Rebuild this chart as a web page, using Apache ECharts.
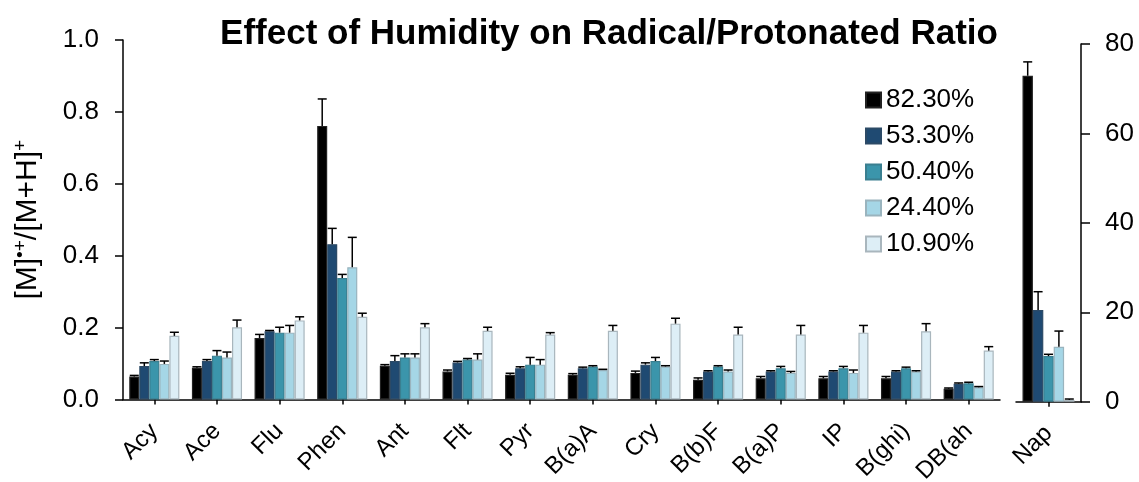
<!DOCTYPE html>
<html>
<head>
<meta charset="utf-8">
<script src="https://cdn.jsdelivr.net/npm/echarts@6/dist/echarts.min.js"></script>
<style>
html,body{margin:0;padding:0;background:#fff;}
#chart{width:1139px;height:482px;}
</style>
</head>
<body>
<div id="chart"></div>
<script>
// ---- data ----
const categories = ['Acy','Ace','Flu','Phen','Ant','Flt','Pyr','B(a)A','Cry','B(b)F','B(a)P','IP','B(ghi)','DB(ah'];
const napCategory = ['Nap'];
const seriesNames = ['82.30%','53.30%','50.40%','24.40%','10.90%'];

const rh823 = [0.064,0.088,0.171,0.761,0.094,0.078,0.069,0.069,0.074,0.055,0.059,0.059,0.059,0.030];
const rh533 = [0.093,0.107,0.190,0.432,0.107,0.103,0.087,0.087,0.097,0.078,0.078,0.078,0.078,0.044];
const rh504 = [0.107,0.122,0.186,0.338,0.117,0.111,0.097,0.092,0.107,0.092,0.087,0.087,0.087,0.045];
const rh244 = [0.099,0.117,0.186,0.368,0.117,0.111,0.097,0.082,0.092,0.078,0.074,0.074,0.078,0.034];
const rh109 = [0.177,0.201,0.220,0.230,0.201,0.191,0.181,0.191,0.211,0.181,0.181,0.186,0.190,0.136];

const err823 = [0.003,0.003,0.010,0.075,0.003,0.004,0.004,0.003,0.005,0.005,0.005,0.005,0.005,0.002];
const err533 = [0.009,0.004,0.002,0.044,0.015,0.003,0.004,0.003,0.005,0.002,0.002,0.002,0.002,0.002];
const err504 = [0.004,0.014,0.015,0.010,0.010,0.003,0.020,0.002,0.010,0.002,0.005,0.005,0.003,0.003];
const err244 = [0.008,0.015,0.020,0.083,0.010,0.016,0.014,0.002,0.002,0.004,0.004,0.008,0.002,0.002];
const err109 = [0.010,0.020,0.010,0.010,0.010,0.010,0.005,0.015,0.015,0.020,0.025,0.020,0.021,0.011];

const napValues = [72.9, 20.5, 10.2, 12.3, 0.4];
const napErrors = [3.1, 4.1, 0.4, 3.5, 0.2];

const leftTicks = [0, 0.2, 0.4, 0.6, 0.8, 1.0];
const rightTicks = [0, 20, 40, 60, 80];

// ---- styles ----
const colors = ['#000000','#1f4a72','#3b95ab','#a5d6e6','#ddeef6'];
const borders = ['#222222','#2c4a66','#3a7f90','#9ab4be','#a9b6bd'];
const leftValues = [rh823, rh533, rh504, rh244, rh109];
const leftErrors = [err823, err533, err504, err244, err109];
const CAT_GAP = 0.2;
const FONT = 'Liberation Sans, Arial, sans-serif';

function errRender(idx){
  return function(params, api){
    const c = api.value(0), v = api.value(1), e = api.value(2);
    const base = api.coord([c, v]);
    const top = api.coord([c, v + e]);
    const band = api.size([1, 0])[0];
    const bw = band * (1 - CAT_GAP) / 5;
    const cx = base[0] + (idx - 2) * bw;
    const cap = 4.5;
    return {
      type: 'group',
      children: [
        {type:'line', shape:{x1:cx, y1:base[1], x2:cx, y2:top[1]}, style:{stroke:'#000', lineWidth:1.5}},
        {type:'line', shape:{x1:cx-cap, y1:top[1], x2:cx+cap, y2:top[1]}, style:{stroke:'#000', lineWidth:1.5}}
      ]
    };
  };
}

const series = [];
seriesNames.forEach((name, i) => {
  series.push({
    name: name, type: 'bar', xAxisIndex: 0, yAxisIndex: 0,
    data: leftValues[i], barGap: '0%', barCategoryGap: (CAT_GAP*100)+'%',
    itemStyle: {color: colors[i], borderColor: borders[i], borderWidth: 1.2},
    animation: false
  });
});
seriesNames.forEach((name, i) => {
  series.push({
    name: name, type: 'bar', xAxisIndex: 1, yAxisIndex: 1,
    data: [napValues[i]], barGap: '0%', barCategoryGap: (CAT_GAP*100)+'%',
    itemStyle: {color: colors[i], borderColor: borders[i], borderWidth: 1.2},
    animation: false
  });
});
seriesNames.forEach((name, i) => {
  series.push({
    type: 'custom', xAxisIndex: 0, yAxisIndex: 0, z: 5,
    renderItem: errRender(i),
    data: leftValues[i].map((v, k) => [k, v, leftErrors[i][k]]),
    animation: false, silent: true
  });
  series.push({
    type: 'custom', xAxisIndex: 1, yAxisIndex: 1, z: 5,
    renderItem: errRender(i),
    data: [[0, napValues[i], napErrors[i]]],
    animation: false, silent: true
  });
});

const axisLine = {show: true, lineStyle: {color: '#000', width: 1.5}};
const xLabel = {rotate: 45, fontFamily: FONT, fontSize: 24, color: '#000', margin: 28, interval: 0};
const chart = echarts.init(document.getElementById('chart'));
chart.setOption({
  animation: false,
  backgroundColor: '#fff',
  textStyle: {fontFamily: FONT},
  title: {
    text: 'Effect of Humidity on Radical/Protonated Ratio',
    left: 604, top: 12, textAlign: 'center',
    textStyle: {fontFamily: FONT, fontWeight: 'bold', fontSize: 35, color: '#000'}
  },
  legend: {
    orient: 'vertical', left: 860, top: 82,
    data: seriesNames,
    itemWidth: 15, itemHeight: 15, itemGap: 10,
    icon: 'rect',
    textStyle: {fontFamily: FONT, fontSize: 26, color: '#000'}
  },
  grid: [
    {left: 123, top: 40, width: 877, height: 359.5, containLabel: false, outerBoundsMode: 'none'},
    {left: 1016, top: 44, width: 65, height: 357.7, containLabel: false, outerBoundsMode: 'none'}
  ],
  xAxis: [
    {type: 'category', gridIndex: 0, data: categories,
     axisLine: axisLine,
     axisTick: {show: true, alignWithLabel: true, length: 5, lineStyle: {color: '#000', width: 1.5}},
     axisLabel: xLabel},
    {type: 'category', gridIndex: 1, data: napCategory,
     axisLine: axisLine,
     axisTick: {show: true, alignWithLabel: true, length: 5, lineStyle: {color: '#000', width: 1.5}},
     axisLabel: xLabel}
  ],
  yAxis: [
    {type: 'value', gridIndex: 0, min: leftTicks[0], max: leftTicks[leftTicks.length-1], interval: 0.2,
     axisLine: axisLine,
     axisTick: {show: true, inside: false, length: 8, lineStyle: {color: '#000', width: 1.5}},
     splitLine: {show: false},
     axisLabel: {fontFamily: FONT, fontSize: 26, color: '#000', margin: 24, formatter: v => v.toFixed(1)},
     name: '{a|[M]}{s|•+}{a|/[M+H]}{s|+}',
     nameLocation: 'middle', nameGap: 79, nameRotate: 90,
     nameTextStyle: {
       rich: {
         a: {fontFamily: FONT, fontSize: 30, color: '#000'},
         s: {fontFamily: FONT, fontSize: 19, color: '#000', padding: [0,0,14,0]}
       }
     }},
    {type: 'value', gridIndex: 1, position: 'right', min: rightTicks[0], max: rightTicks[rightTicks.length-1], interval: 20,
     axisLine: axisLine,
     axisTick: {show: true, inside: false, length: 9, lineStyle: {color: '#000', width: 1.5}},
     splitLine: {show: false},
     axisLabel: {fontFamily: FONT, fontSize: 26, color: '#000', margin: 24}}
  ],
  series: series
});
</script>
</body>
</html>
